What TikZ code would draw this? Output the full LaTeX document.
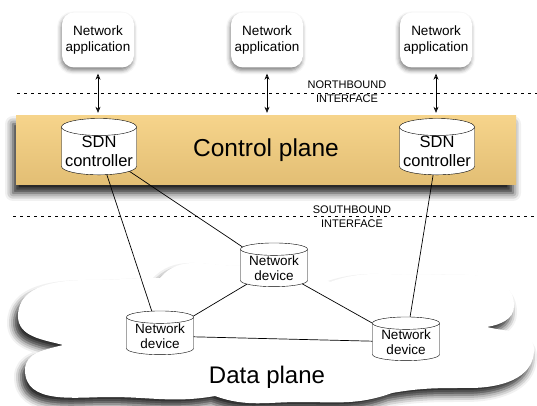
\documentclass[tikz,border=0pt]{standalone}
\usepackage{fontspec}
\setmainfont{Liberation Sans}
\usetikzlibrary{shapes.geometric,arrows.meta,shadows.blur}
\definecolor{planetop}{RGB}{246,212,139}
\definecolor{planebot}{RGB}{226,190,116}
\tikzset{
  app/.style={fill=white,rounded corners=12pt,minimum width=72pt,minimum height=55pt,align=center,
    font=\fontsize{13.5}{16}\selectfont,
    blur shadow={shadow xshift=-1pt,shadow yshift=-3pt,shadow blur radius=4pt,shadow opacity=50}},
  sdn/.style={cylinder,shape border rotate=90,aspect=0.25,draw,fill=white,inner sep=0pt,
    minimum width=75pt,minimum height=53pt,align=center,font=\fontsize{16.5}{19}\selectfont},
  device/.style={sdn,minimum width=67pt,minimum height=41pt,font=\fontsize{13.5}{15}\selectfont},
  plane/.style={top color=planetop,bottom color=planebot,inner sep=0pt,
    font=\fontsize{24.5}{28}\selectfont,
    blur shadow={shadow xshift=-3pt,shadow yshift=-8pt,shadow blur radius=8pt,shadow opacity=90}},
  iface/.style={dash pattern=on 3pt off 4pt,line width=0.5pt},
  ifacelabel/.style={align=center,font=\fontsize{11}{14}\selectfont},
  biarrow/.style={{Stealth[length=6pt,width=5pt]}-{Stealth[length=6pt,width=5pt]},line width=0.6pt,
    shorten <=6pt,shorten >=3pt},
  link/.style={line width=0.7pt}
}
\begin{document}
\begin{tikzpicture}[x=1pt,y=1pt]
\useasboundingbox (0,0) rectangle (537,406);
\path[fill=white,blur shadow={shadow xshift=-4pt,shadow yshift=-7pt,shadow blur radius=7pt,shadow opacity=85}]
  (63,61) to[out=165,in=-90] (18,90) to[out=90,in=180] (90,126) to[out=0,in=180] (160,128)
  to[out=50,in=180] (240,140) to[out=0,in=150] (330,124)
  to[out=20,in=180] (420,131) to[out=0,in=90] (514,100) to[out=-90,in=10] (487,79)
  to[out=-15,in=90] (534,56) to[out=-90,in=0] (470,18) to[out=180,in=10] (392,13)
  to[out=200,in=0] (300,4) to[out=180,in=-20] (215,10)
  to[out=190,in=0] (110,9) to[out=180,in=-90] (25,36) to[out=90,in=195] cycle;
\node (control) [plane,minimum width=500pt,minimum height=69pt] at (266,255.5) {Control plane};
\coordinate (nbL) at (17,313);
\coordinate (nbR) at (537,313);
\coordinate (sbL) at (13,190);
\coordinate (sbR) at (537,190);
\draw[iface] (nbL) -- (nbR);
\draw[iface] (sbL) -- (sbR);
\node (nblabel) [ifacelabel] at (347,314) {NORTHBOUND\\INTERFACE};
\node (sblabel) [ifacelabel] at (352,189) {SOUTHBOUND\\INTERFACE};
\node (appA) [app] at (98,366) {Network\\application};
\node (appB) [app] at (267,366) {Network\\application};
\node (appC) [app] at (436,366) {Network\\application};
\node (sdnA) [sdn] at (99,255) {SDN\\controller};
\node (sdnB) [sdn] at (437,255) {SDN\\controller};
\node (devT) [device] at (274,138) {Network\\device};
\node (devL) [device] at (160,70) {Network\\device};
\node (devR) [device] at (406,64) {Network\\device};
\node (data) [font=\fontsize{24}{28}\selectfont] at (267,29) {Data plane};
\draw[biarrow] (appA.south) -- (appA.south |- control.north);
\draw[biarrow] (appB.south) -- (appB.south |- control.north);
\draw[biarrow] (appC.south) -- (appC.south |- control.north);
\draw[link] (sdnA) -- (devL);
\draw[link] (sdnA) -- (devT);
\draw[link] (sdnB) -- (devR);
\draw[link] (devT) -- (devL);
\draw[link] (devT) -- (devR);
\draw[link] (devL) -- (devR);
\end{tikzpicture}
\end{document}
